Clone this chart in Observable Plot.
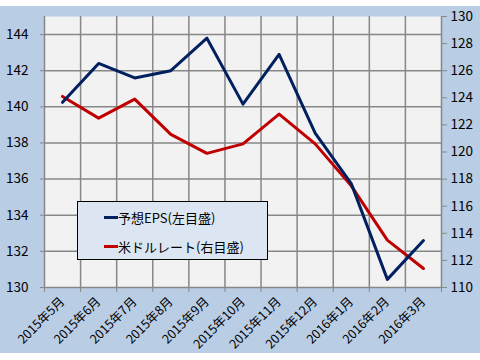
<!DOCTYPE html>
<html>
<head>
<meta charset="utf-8">
<script src="https://cdn.jsdelivr.net/npm/d3@7"></script>
<script src="https://cdn.jsdelivr.net/npm/@observablehq/plot@0.6"></script>
<style>
  html, body { margin: 0; padding: 0; background: #ffffff; }
  body { width: 480px; height: 360px; position: relative; overflow: hidden;
         font-family: "Noto Sans CJK JP", "Noto Sans", sans-serif; }
  #chart { position: absolute; left: 0; top: 6px; width: 480px; height: 347px; background: #b9cde5; }
  #legend { position: absolute; left: 77px; top: 201px; width: 189px; height: 57px;
            background: #dce6f2; border: 1px solid #000; box-sizing: content-box; }
  .item { position: absolute; left: 26px; height: 16px; display: flex; align-items: center;
          font-size: 13px; color: #000; white-space: nowrap; }
  .sw { width: 14px; height: 3px; margin-right: 0px; }
</style>
</head>
<body>
<div id="chart"></div>
<div id="legend">
  <div class="item" style="top:7px"><span class="sw" style="background:#002060"></span>予想EPS(左目盛)</div>
  <div class="item" style="top:36px"><span class="sw" style="background:#c00000"></span>米ドルレート(右目盛)</div>
</div>
<script>
const months = ["2015年5月","2015年6月","2015年7月","2015年8月","2015年9月","2015年10月",
                "2015年11月","2015年12月","2016年1月","2016年2月","2016年3月"];
const eps = [140.25, 142.4, 141.6, 142.0, 143.8, 140.15, 142.9, 138.55, 135.75, 130.45, 132.6];
const usd = [124.1, 122.5, 123.9, 121.3, 119.9, 120.6, 122.8, 120.6, 117.5, 113.5, 111.4];
const leftTicks = [130, 132, 134, 136, 138, 140, 142, 144];
const rightTicks = [110, 112, 114, 116, 118, 120, 122, 124, 126, 128, 130];

const leftDomain = [130, 145];
const rightDomain = [110, 130];
const toLeft = v => leftDomain[0] + (v - rightDomain[0]) * (leftDomain[1] - leftDomain[0]) / (rightDomain[1] - rightDomain[0]);
const fromLeft = v => rightDomain[0] + (v - leftDomain[0]) * (rightDomain[1] - rightDomain[0]) / (leftDomain[1] - leftDomain[0]);

const boundaries = d3.range(months.length + 1);
const centers = months.map((m, i) => i + 0.5);
const gridColor = "#878787";

const chart = Plot.plot({
  width: 480,
  height: 347,
  marginTop: 10,
  marginBottom: 66,
  marginLeft: 44,
  marginRight: 39,
  style: { background: "transparent", fontFamily: "'Noto Sans CJK JP', sans-serif", fontSize: "13px", color: "#000" },
  x: { type: "linear", domain: [0, months.length] },
  y: { domain: leftDomain },
  marks: [
    Plot.frame({ fill: "#f2f2f2" }),
    Plot.gridY(leftTicks.filter(t => t > leftDomain[0]), { stroke: gridColor, strokeOpacity: 1, strokeWidth: 1.5 }),
    Plot.gridX(boundaries, { stroke: gridColor, strokeOpacity: 1, strokeWidth: 1.5 }),
    Plot.ruleY([leftDomain[0]], { stroke: gridColor, strokeWidth: 1.5 }),
    Plot.axisY(leftTicks, { anchor: "left", tickSize: 4, tickPadding: 12, stroke: gridColor, fill: "#000", fontSize: 13.5, label: null }),
    Plot.axisY(rightTicks.map(toLeft), { anchor: "right", tickSize: 5, tickPadding: 4, stroke: gridColor, fill: "#000", fontSize: 13.5,
      tickFormat: d => String(Math.round(fromLeft(d))), label: null }),
    Plot.axisX(boundaries, { anchor: "bottom", tickSize: 5, stroke: gridColor, tickFormat: () => "", label: null }),
    Plot.axisX(centers, { anchor: "bottom", tickSize: 0, tickPadding: 12, tickRotate: -45, fill: "#000", fontSize: 12.5,
      tickFormat: d => months[Math.floor(d)], label: null }),
    Plot.line(usd, { x: (d, i) => i + 0.5, y: d => toLeft(d), stroke: "#c00000", strokeWidth: 3, strokeLinejoin: "round" }),
    Plot.line(eps, { x: (d, i) => i + 0.5, y: d => d, stroke: "#002060", strokeWidth: 3, strokeLinejoin: "round" })
  ]
});
document.getElementById("chart").appendChild(chart);
</script>
</body>
</html>
